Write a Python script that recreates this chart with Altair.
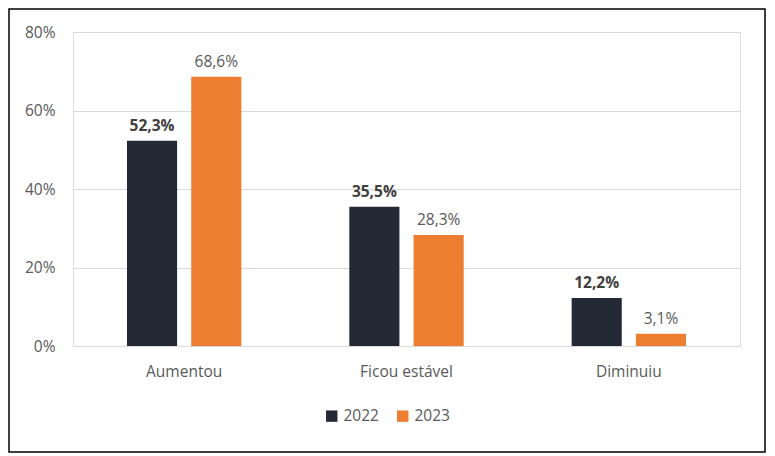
import altair as alt
import pandas as pd

categories = ["Aumentou", "Ficou estável", "Diminuiu"]
years = ["2022", "2023"]
values_2022 = [52.3, 35.5, 12.2]
values_2023 = [68.6, 28.3, 3.1]
y_ticks = [0, 20, 40, 60, 80]

rows = []
for c, a, b in zip(categories, values_2022, values_2023):
    rows.append({"cat": c, "year": "2022", "v": a})
    rows.append({"cat": c, "year": "2023", "v": b})
df = pd.DataFrame(rows)
df["label"] = df["v"].map(lambda v: f"{v:.1f}".replace(".", ",") + "%")

W, H = 667, 314
FONT = "Open Sans"
FS = 15.5

x = alt.X("cat:N", sort=categories, title=None,
          scale=alt.Scale(paddingInner=0, paddingOuter=0),
          axis=alt.Axis(labelAngle=0, domain=False, ticks=False, labelPadding=18,
                        labelFontSize=FS, labelColor="#595959", labelFont=FONT))
xo = alt.XOffset("year:N", sort=years,
                 scale=alt.Scale(paddingInner=0.22, paddingOuter=0.84))
yscale = alt.Scale(domain=[0, 80])

bars = alt.Chart(df).mark_bar().encode(
    x=x, xOffset=xo,
    y=alt.Y("v:Q", scale=yscale, title=None,
            axis=alt.Axis(values=y_ticks, domain=False, ticks=False, labelPadding=18,
                          labelExpr="datum.value + '%'", gridColor="#d9d9d9",
                          labelFontSize=FS, labelColor="#595959", labelFont=FONT)),
    color=alt.Color("year:N", sort=years,
                    scale=alt.Scale(domain=years, range=["#232a36", "#ed7d31"]),
                    legend=alt.Legend(title=None, orient="none", direction="horizontal",
                                      legendX=251, legendY=376, symbolType="square",
                                      symbolSize=130, symbolStrokeWidth=0,
                                      labelFontSize=FS, labelColor="#595959",
                                      labelFont=FONT, columnPadding=16, labelOffset=4)),
)

lab22 = alt.Chart(df).transform_filter("datum.year == '2022'").mark_text(
    baseline="bottom", dy=-7, fontSize=FS, fontWeight="bold", color="#404040", font=FONT
).encode(x=x, xOffset=xo, y=alt.Y("v:Q", scale=yscale), text="label:N")

lab23 = alt.Chart(df).transform_filter("datum.year == '2023'").mark_text(
    baseline="bottom", dy=-7, fontSize=FS, color="#595959", font=FONT
).encode(x=x, xOffset=xo, y=alt.Y("v:Q", scale=yscale), text="label:N")

frame = alt.Chart(pd.DataFrame({"k": [0]})).mark_rect(
    fill=None, stroke="#000000", strokeWidth=1.5
).encode(x=alt.value(-64), x2=alt.value(W + 25), y=alt.value(-23), y2=alt.value(H + 106))

chart = alt.layer(bars, lab22, lab23, frame).properties(
    width=W, height=H,
    autosize=alt.AutoSizeParams(type="none"),
    padding={"left": 65, "top": 24, "right": 27, "bottom": 108},
).configure_view(stroke=None).configure(background="white")

chart.save("out.html", embed_options={"renderer": "svg", "actions": False})
